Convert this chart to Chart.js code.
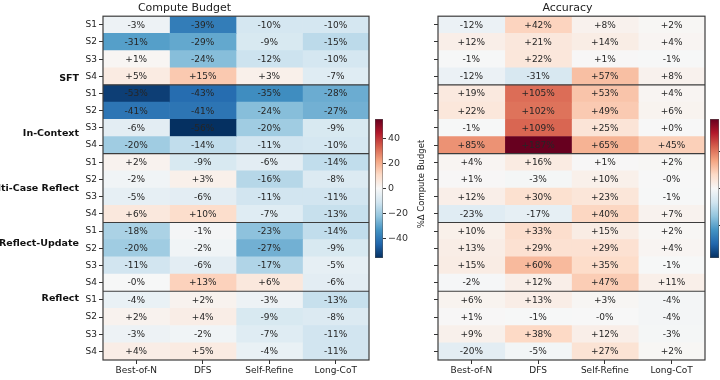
<!DOCTYPE html>
<html><head><meta charset="utf-8">
<script src="https://cdn.jsdelivr.net/npm/chart.js@4/dist/chart.umd.min.js"></script>
<style>
html,body{margin:0;padding:0;background:#fff;width:720px;height:380px;overflow:hidden;position:relative}
canvas{position:absolute;top:0}
</style></head><body>
<canvas id="hm1" width="372" height="380" style="left:0"></canvas>
<canvas id="cb1" width="72" height="380" style="left:368px"></canvas>
<canvas id="hm2" width="280" height="380" style="left:430px"></canvas>
<canvas id="cb2" width="60" height="380" style="left:700px"></canvas>
<script>
// ---- data ----
const methods = ['Best-of-N', 'DFS', 'Self-Refine', 'Long-CoT'];
const groups = ['SFT', 'In-Context', 'Multi-Case Reflect', 'Reflect-Update', 'Reflect'];
const steps = ['S1', 'S2', 'S3', 'S4'];

// %Δ Compute Budget (rows: SFT S1-S4, In-Context S1-S4, Multi-Case Reflect S1-S4, Reflect-Update S1-S4, Reflect S1-S4)
const budgetBestOfN  = [-3, -31, 1, 5,   -53, -41, -6, -20,  2, -2, -5, 6,   -18, -20, -11, -0.2,  -4, 2, -3, 4];
const budgetDFS      = [-39, -29, -24, 15, -43, -41, -56, -14, -9, 3, -6, 10,  -1, -2, -6, 13,     2, 4, -2, 5];
const budgetSelfRef  = [-10, -9, -12, 3,  -35, -24, -20, -11, -6, -16, -11, -7, -23, -27, -17, 6,  -3, -9, -7, -4];
const budgetLongCoT  = [-10, -15, -10, -7, -28, -27, -9, -10, -14, -8, -11, -13, -14, -9, -5, -6, -13, -8, -11, -11];

// %Δ Accuracy
const accBestOfN = [-12, 12, -1, -12,  19, 22, -1, 85,    4, 1, 12, -23,  10, 13, 15, -2,  6, 1, 9, -20];
const accDFS     = [42, 21, 22, -31,   105, 102, 109, 187, 16, -3, 30, -17, 33, 29, 60, 12, 13, -1, 38, -5];
const accSelfRef = [8, 14, 1, 57,      53, 49, 25, 65,    1, 10, 23, 40,   15, 29, 35, 47,  3, -0.2, 12, 27];
const accLongCoT = [2, 4, -1, 8,       4, 6, 0.2, 45,     2, -0.2, -1, 7,  2, 4, -1, 11,    -4, -4, -3, 2];

const budgetMax = 56, accMax = 187;
const budgetTicks = [-40, -20, 0, 20, 40];
const accTicks = [-100, 0, 100];

// ---- helpers ----
const F = '"DejaVu Sans", sans-serif';
const stops = ['#053061','#2166ac','#4393c3','#92c5de','#d1e5f0','#f7f7f7','#fddbc7','#f4a582','#d6604d','#b2182b','#67001f'];
function hex(h){return [1,3,5].map(i=>parseInt(h.substr(i,2),16));}
function cmap(t){
  t = Math.max(0, Math.min(1, t));
  const x = t*10, i = Math.min(9, Math.floor(x)), f = x - i;
  const a = hex(stops[i]), b = hex(stops[i+1]);
  return 'rgb(' + a.map((v,k)=>Math.round(v + (b[k]-v)*f)).join(',') + ')';
}
function fmt(v){ return (v < 0 ? '-' : '+') + Math.round(Math.abs(v)) + '%'; }
const rowLabels = [];
groups.forEach(()=>steps.forEach(s=>rowLabels.push(s)));

const cellText = {
  id: 'cellText',
  afterDatasetsDraw(chart){
    const ctx = chart.ctx;
    ctx.save();
    ctx.font = '9px ' + F;
    ctx.fillStyle = '#262626';
    ctx.textAlign = 'center';
    ctx.textBaseline = 'middle';
    chart.data.datasets.forEach((ds, j) => {
      chart.getDatasetMeta(j).data.forEach((el, i) => {
        const p = el.getCenterPoint();
        ctx.fillText(fmt(ds.vals[i]), p.x, p.y + 0.5);
      });
    });
    ctx.restore();
  },
  afterDraw(chart){
    const ctx = chart.ctx, ca = chart.chartArea, y = chart.scales.y;
    ctx.save();
    ctx.strokeStyle = '#3c3c3c';
    ctx.lineWidth = 1.2;
    for (let k = 1; k < groups.length; k++) {
      const yy = (y.getPixelForValue(4*k-1) + y.getPixelForValue(4*k)) / 2;
      ctx.beginPath(); ctx.moveTo(ca.left, yy); ctx.lineTo(ca.right, yy); ctx.stroke();
    }
    ctx.strokeRect(ca.left, ca.top, ca.right - ca.left, ca.bottom - ca.top);
    ctx.restore();
  }
};

function heatmap(id, title, series, vmax, showGroups, yw, rightPad){
  const scales = {
    x: {
      type: 'linear', stacked: true, min: 0, max: 4,
      afterBuildTicks: s => { s.ticks = [0.5, 1.5, 2.5, 3.5].map(v => ({value: v})); },
      ticks: {callback: v => methods[Math.floor(v)], font: {size: 9, family: F}, color: '#222', padding: 1, autoSkip: false, maxRotation: 0},
      grid: {drawOnChartArea: false, drawTicks: true, tickLength: 4, color: '#333'},
      border: {display: false},
      afterFit: s => { s.height = 20; }
    },
    y: {
      type: 'category', stacked: true, weight: 0,
      ticks: {callback: (v, i) => showGroups ? rowLabels[i] : '', font: {size: 9, family: F}, color: '#222', padding: 2, autoSkip: false},
      grid: {drawOnChartArea: false, drawTicks: true, tickLength: 4, color: '#333', offset: false},
      border: {display: false},
      afterFit: s => { s.width = yw; }
    }
  };
  if (showGroups) {
    scales.g = {
      type: 'linear', axis: 'y', position: 'left', reverse: true, min: 0, max: 20, weight: 1,
      afterBuildTicks: s => { s.ticks = groups.map((g, k) => ({value: 4*k + 2})); },
      ticks: {callback: v => groups[(v - 2) / 4], font: {size: 9.5, family: F, weight: 'bold'}, color: '#111', padding: 4, autoSkip: false},
      grid: {display: false, drawTicks: false},
      border: {display: false},
      afterFit: s => { s.width = 83; }
    };
  }
  new Chart(document.getElementById(id), {
    type: 'bar',
    data: {
      labels: rowLabels,
      datasets: methods.map((m, j) => ({
        label: m,
        data: rowLabels.map(() => 1),
        vals: series[j],
        backgroundColor: series[j].map(v => cmap((v + vmax) / (2*vmax))),
        borderWidth: 0,
        barPercentage: 1,
        categoryPercentage: 1
      }))
    },
    options: {
      indexAxis: 'y', responsive: false, animation: false,
      layout: {padding: {left: 0, right: rightPad, top: 0, bottom: 0}},
      plugins: {
        legend: {display: false}, tooltip: {enabled: false},
        title: {display: true, text: title, font: {size: 11, family: F, weight: 'normal'}, color: '#222', padding: {top: 2, bottom: 1}}
      },
      scales
    },
    plugins: [cellText]
  });
}

function colorbar(id, vmax, ticks, padLeft, axisW, label){
  const plugins = [];
  if (label) plugins.push({
    id: 'cbLabel',
    afterDraw(chart){
      const ctx = chart.ctx;
      ctx.save();
      ctx.translate(54, 184);
      ctx.rotate(-Math.PI/2);
      ctx.font = '8.5px ' + F;
      ctx.fillStyle = '#222';
      ctx.textAlign = 'center';
      ctx.textBaseline = 'middle';
      ctx.fillText(label, 0, 0);
      ctx.restore();
    }
  });
  new Chart(document.getElementById(id), {
    type: 'bar',
    data: {labels: [''], datasets: [{
      data: [[-vmax, vmax]],
      backgroundColor: c => {
        const ca = c.chart.chartArea;
        if (!ca) return '#fff';
        const g = c.chart.ctx.createLinearGradient(0, ca.bottom, 0, ca.top);
        stops.forEach((s, i) => g.addColorStop(i/10, s));
        return g;
      },
      borderColor: '#555', borderWidth: 0.8, borderSkipped: false,
      barPercentage: 1, categoryPercentage: 1
    }]},
    options: {
      responsive: false, animation: false,
      layout: {padding: {left: padLeft, top: 119, bottom: 122, right: 0}},
      plugins: {legend: {display: false}, tooltip: {enabled: false}},
      scales: {
        x: {display: false},
        y: {
          position: 'right', min: -vmax, max: vmax,
          afterBuildTicks: s => { s.ticks = ticks.map(v => ({value: v})); },
          ticks: {callback: v => v < 0 ? '\u2212' + Math.abs(v) : String(v), font: {size: 9.5, family: F}, color: '#333', padding: 2},
          grid: {drawOnChartArea: false, tickLength: 3, color: '#333'},
          border: {display: false},
          afterFit: s => { s.width = axisW; }
        }
      }
    },
    plugins
  });
}

heatmap('hm1', 'Compute Budget', [budgetBestOfN, budgetDFS, budgetSelfRef, budgetLongCoT], budgetMax, true, 20, 3);
heatmap('hm2', 'Accuracy', [accBestOfN, accDFS, accSelfRef, accLongCoT], accMax, false, 8, 5);
colorbar('cb1', budgetMax, budgetTicks, 7, 57, '%\u0394 Compute Budget');
colorbar('cb2', accMax, accTicks, 10, 41, null);
</script>
</body></html>
